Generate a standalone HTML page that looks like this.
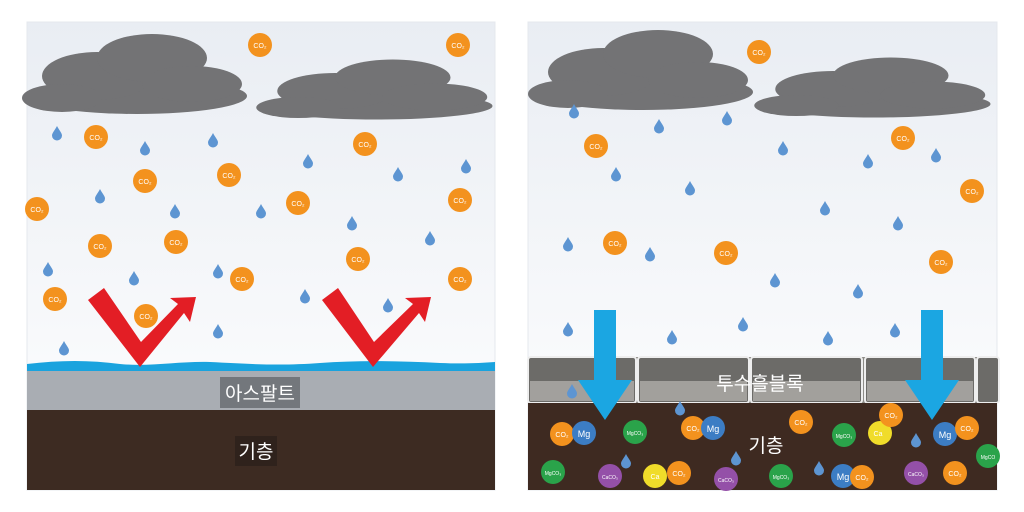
<!DOCTYPE html>
<html><head><meta charset="utf-8"><style>
html,body{margin:0;padding:0;background:#fff;}
svg{display:block;}
text{font-family:"Liberation Sans","Noto Sans CJK KR",sans-serif;}
</style></head><body>
<svg width="1024" height="512" viewBox="0 0 1024 512" xmlns="http://www.w3.org/2000/svg">
<defs>
<linearGradient id="sky" x1="0" y1="0" x2="0" y2="1"><stop offset="0" stop-color="#e9edf3"/><stop offset="1" stop-color="#ffffff"/></linearGradient>
<symbol id="drop" viewBox="-5 -8 10 14" overflow="visible"><path d="M0,-7 C2,-3 5,0 5,2.5 A5,5 0 0 1 -5,2.5 C-5,0 -2,-3 0,-7Z" fill="#5d95d2"/></symbol>
<g id="cloud" fill="#737375">
<ellipse cx="0" cy="0" rx="110" ry="18"/>
<ellipse cx="-40" cy="-20" rx="55" ry="24"/>
<ellipse cx="15" cy="-38" rx="55" ry="24"/>
<ellipse cx="55" cy="-12" rx="50" ry="18"/>
<ellipse cx="-75" cy="2" rx="40" ry="14"/>
</g>
</defs>
<!-- LEFT PANEL -->
<rect x="27" y="22" width="468" height="468" fill="url(#sky)"/>
<rect x="27" y="22" width="468" height="468" fill="none" stroke="#e5e8ee"/>
<use href="#cloud" transform="translate(137,96)"/>
<use href="#cloud" transform="translate(377,106) scale(1.05,0.75)"/>
<g>
<rect x="27" y="369" width="468" height="42" fill="#a9adb3"/>
<path d="M27,364 C60,360 90,360 120,364 C150,367 180,361 210,362 C250,364 280,366 320,363 C360,360 400,361 440,363 C465,364 480,363 495,362 L495,371 L27,371Z" fill="#1aa3de"/>
<rect x="27" y="410" width="468" height="80" fill="#3d2b22"/>
</g>
<g>
<use href="#drop" x="52" y="125" width="10" height="14"/>
<use href="#drop" x="140" y="140" width="10" height="14"/>
<use href="#drop" x="208" y="132" width="10" height="14"/>
<use href="#drop" x="303" y="153" width="10" height="14"/>
<use href="#drop" x="461" y="158" width="10" height="14"/>
<use href="#drop" x="95" y="188" width="10" height="14"/>
<use href="#drop" x="170" y="203" width="10" height="14"/>
<use href="#drop" x="256" y="203" width="10" height="14"/>
<use href="#drop" x="393" y="166" width="10" height="14"/>
<use href="#drop" x="347" y="215" width="10" height="14"/>
<use href="#drop" x="425" y="230" width="10" height="14"/>
<use href="#drop" x="43" y="261" width="10" height="14"/>
<use href="#drop" x="129" y="270" width="10" height="14"/>
<use href="#drop" x="213" y="263" width="10" height="14"/>
<use href="#drop" x="300" y="288" width="10" height="14"/>
<use href="#drop" x="59" y="340" width="10" height="14"/>
<use href="#drop" x="213" y="323" width="10" height="14"/>
<use href="#drop" x="383" y="297" width="10" height="14"/>
</g>
<g fill="#f3921e" font-size="7" text-anchor="middle">
<g><circle cx="260" cy="45" r="12"/><circle cx="458" cy="45" r="12"/><circle cx="96" cy="137" r="12"/><circle cx="365" cy="144" r="12"/><circle cx="145" cy="181" r="12"/><circle cx="229" cy="175" r="12"/><circle cx="37" cy="209" r="12"/><circle cx="298" cy="203" r="12"/><circle cx="460" cy="200" r="12"/><circle cx="100" cy="246" r="12"/><circle cx="176" cy="242" r="12"/><circle cx="358" cy="259" r="12"/><circle cx="242" cy="279" r="12"/><circle cx="460" cy="279" r="12"/><circle cx="55" cy="299" r="12"/><circle cx="146" cy="316" r="12"/></g>
<g fill="#fff"><text x="260" y="48">CO₂</text><text x="458" y="48">CO₂</text><text x="96" y="140">CO₂</text><text x="365" y="147">CO₂</text><text x="145" y="184">CO₂</text><text x="229" y="178">CO₂</text><text x="37" y="212">CO₂</text><text x="298" y="206">CO₂</text><text x="460" y="203">CO₂</text><text x="100" y="249">CO₂</text><text x="176" y="245">CO₂</text><text x="358" y="262">CO₂</text><text x="242" y="282">CO₂</text><text x="460" y="282">CO₂</text><text x="55" y="302">CO₂</text><text x="146" y="319">CO₂</text></g>
</g>
<g fill="#e31e25">
<path d="M88,300 L104,288 L141,342 L178,304 L170,298 L196,297 L190,322 L184,313 L140,367Z"/>
<path d="M322,300 L338,288 L374,342 L413,304 L405,298 L431,297 L425,322 L419,313 L373,367Z"/>
</g>
<rect x="220" y="377" width="80" height="31" fill="#6a6d72" opacity="0.85"/>
<text x="260" y="400" font-size="19" fill="#fff" text-anchor="middle">아스팔트</text>
<rect x="235" y="436" width="42" height="30" fill="#2f221c"/>
<text x="256" y="458" font-size="19" fill="#fff" text-anchor="middle">기층</text>

<!-- RIGHT PANEL -->
<rect x="528" y="22" width="469" height="468" fill="url(#sky)"/>
<rect x="528" y="22" width="469" height="468" fill="none" stroke="#e5e8ee"/>
<use href="#cloud" transform="translate(643,92)"/>
<use href="#cloud" transform="translate(875,104) scale(1.05,0.75)"/>
<rect x="528" y="357" width="469" height="46" fill="#8d8c88"/>
<g fill="#6c6b68" stroke="#eee" stroke-width="2">
<rect x="528" y="357" width="108" height="46" rx="3"/>
<rect x="638" y="357" width="111" height="46" rx="3"/>
<rect x="751" y="357" width="111" height="46" rx="3"/>
<rect x="865" y="357" width="110" height="46" rx="3"/>
<rect x="977" y="357" width="22" height="46" rx="3"/>
</g>
<g fill="#b0aeaa" opacity="0.8"><rect x="530" y="381" width="104" height="20"/><rect x="640" y="381" width="107" height="20"/><rect x="753" y="381" width="107" height="20"/><rect x="867" y="381" width="106" height="20"/></g>
<rect x="528" y="403" width="469" height="87" fill="#3e2a21"/>
<text x="760" y="390" font-size="19" fill="#fff" text-anchor="middle">투수흘블록</text>
<text x="766" y="452" font-size="19" fill="#fff" text-anchor="middle">기층</text>
<g>
<use href="#drop" x="569" y="103" width="10" height="14"/>
<use href="#drop" x="654" y="118" width="10" height="14"/>
<use href="#drop" x="722" y="110" width="10" height="14"/>
<use href="#drop" x="778" y="140" width="10" height="14"/>
<use href="#drop" x="863" y="153" width="10" height="14"/>
<use href="#drop" x="931" y="147" width="10" height="14"/>
<use href="#drop" x="611" y="166" width="10" height="14"/>
<use href="#drop" x="685" y="180" width="10" height="14"/>
<use href="#drop" x="820" y="200" width="10" height="14"/>
<use href="#drop" x="893" y="215" width="10" height="14"/>
<use href="#drop" x="563" y="236" width="10" height="14"/>
<use href="#drop" x="645" y="246" width="10" height="14"/>
<use href="#drop" x="770" y="272" width="10" height="14"/>
<use href="#drop" x="853" y="283" width="10" height="14"/>
<use href="#drop" x="563" y="321" width="10" height="14"/>
<use href="#drop" x="667" y="329" width="10" height="14"/>
<use href="#drop" x="738" y="316" width="10" height="14"/>
<use href="#drop" x="823" y="330" width="10" height="14"/>
<use href="#drop" x="890" y="322" width="10" height="14"/>
<use href="#drop" x="567" y="383" width="10" height="14"/>
<use href="#drop" x="675" y="400" width="10" height="14"/>
<use href="#drop" x="621" y="453" width="10" height="14"/>
<use href="#drop" x="731" y="450" width="10" height="14"/>
<use href="#drop" x="814" y="460" width="10" height="14"/>
<use href="#drop" x="911" y="432" width="10" height="14"/>
</g>
<g fill="#1ba6e2">
<path d="M594,310 L616,310 L616,380 L632,380 L605,420 L578,380 L594,380Z"/>
<path d="M921,310 L943,310 L943,380 L959,380 L932,420 L905,380 L921,380Z"/>
</g>
<g font-size="7" text-anchor="middle">
<g fill="#f3921e"><circle cx="759" cy="52" r="12"/><circle cx="596" cy="146" r="12"/><circle cx="903" cy="138" r="12"/><circle cx="972" cy="191" r="12"/><circle cx="615" cy="243" r="12"/><circle cx="726" cy="253" r="12"/><circle cx="941" cy="262" r="12"/></g>
<g fill="#fff"><text x="759" y="55">CO₂</text><text x="596" y="149">CO₂</text><text x="903" y="141">CO₂</text><text x="972" y="194">CO₂</text><text x="615" y="246">CO₂</text><text x="726" y="256">CO₂</text><text x="941" y="265">CO₂</text></g>
</g>
<g font-size="7" text-anchor="middle">
<circle cx="562" cy="434" r="12" fill="#f3921e"/><circle cx="584" cy="433" r="12" fill="#3c7dc4"/>
<circle cx="635" cy="432" r="12" fill="#2aa34a"/>
<circle cx="693" cy="428" r="12" fill="#f3921e"/><circle cx="713" cy="428" r="12" fill="#3c7dc4"/>
<circle cx="801" cy="422" r="12" fill="#f3921e"/>
<circle cx="844" cy="435" r="12" fill="#2aa34a"/>
<circle cx="880" cy="433" r="12" fill="#f0dc2a"/><circle cx="891" cy="415" r="12" fill="#f3921e"/>
<circle cx="945" cy="434" r="12" fill="#3c7dc4"/><circle cx="967" cy="428" r="12" fill="#f3921e"/>
<circle cx="988" cy="456" r="12" fill="#2aa34a"/>
<circle cx="553" cy="472" r="12" fill="#2aa34a"/>
<circle cx="610" cy="476" r="12" fill="#9450a8"/>
<circle cx="655" cy="476" r="12" fill="#f0dc2a"/><circle cx="679" cy="473" r="12" fill="#f3921e"/>
<circle cx="726" cy="479" r="12" fill="#9450a8"/>
<circle cx="781" cy="476" r="12" fill="#2aa34a"/>
<circle cx="843" cy="476" r="12" fill="#3c7dc4"/><circle cx="862" cy="477" r="12" fill="#f3921e"/>
<circle cx="916" cy="473" r="12" fill="#9450a8"/>
<circle cx="955" cy="473" r="12" fill="#f3921e"/>
<g fill="#fff">
<text x="562" y="437">CO₂</text><text x="584" y="437" font-size="9">Mg</text><text x="635" y="435" font-size="5">MgCO₃</text>
<text x="693" y="431">CO₂</text><text x="713" y="432" font-size="9">Mg</text><text x="801" y="425">CO₂</text>
<text x="844" y="438" font-size="5">MgCO₃</text><text x="878" y="436">Ca</text><text x="891" y="418">CO₂</text>
<text x="945" y="438" font-size="9">Mg</text><text x="967" y="431">CO₂</text><text x="988" y="459" font-size="5">MgCO</text>
<text x="553" y="475" font-size="5">MgCO₃</text><text x="610" y="479" font-size="5">CaCO₃</text><text x="655" y="479">Ca</text>
<text x="679" y="476">CO₂</text><text x="726" y="482" font-size="5">CaCO₃</text><text x="781" y="479" font-size="5">MgCO₃</text>
<text x="843" y="480" font-size="9">Mg</text><text x="862" y="480">CO₂</text><text x="916" y="476" font-size="5">CaCO₃</text><text x="955" y="476">CO₂</text>
</g>
</g>
</svg>
</body></html>
